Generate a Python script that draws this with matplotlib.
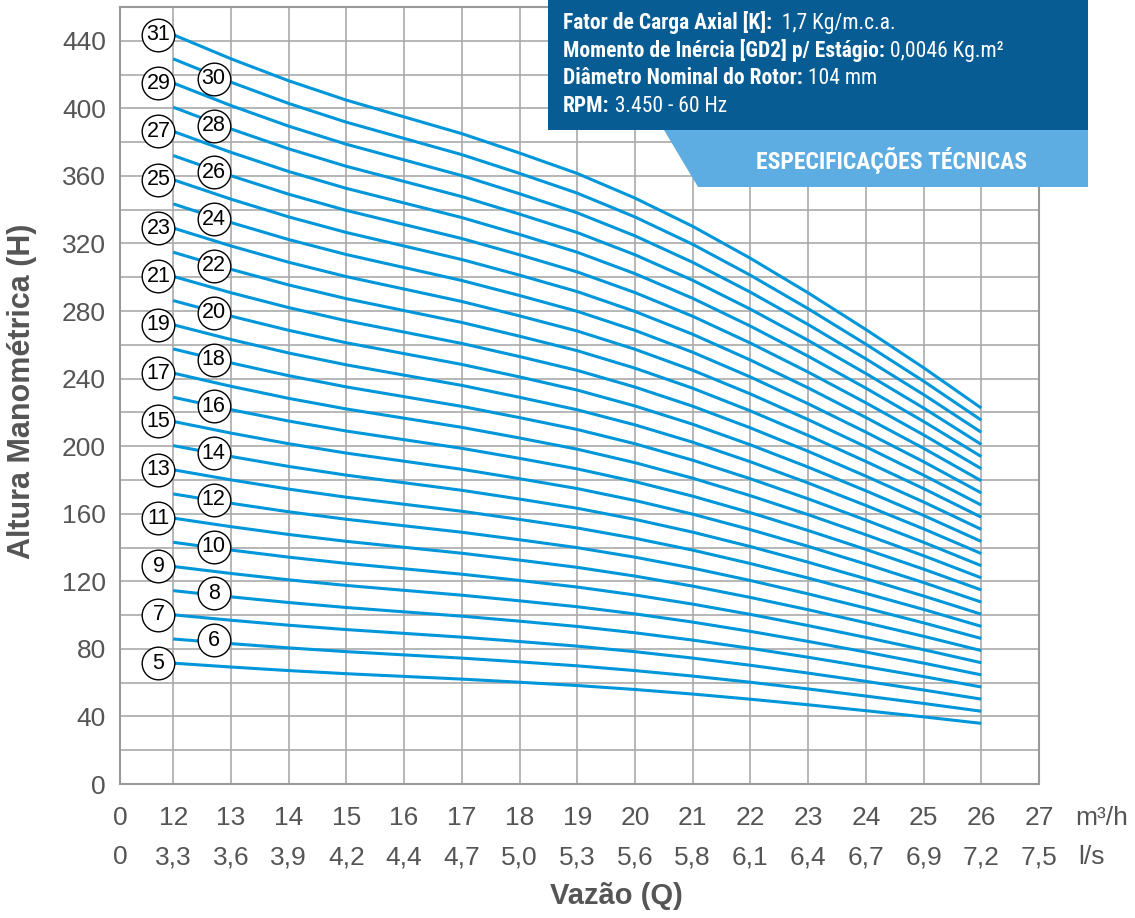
import matplotlib.pyplot as plt
from matplotlib.patches import Rectangle, Polygon

# flow points (m3/h) and head per stage
flow_m3h = [12, 13, 14, 15, 16, 17, 18, 19, 20, 21, 22, 23, 24, 25, 26]
head_per_stage = [14.31, 13.85, 13.43, 13.06, 12.74, 12.42, 12.05, 11.66,
                  11.19, 10.65, 10.04, 9.38, 8.68, 7.95, 7.18]
stages = list(range(5, 32))

x_labels_m3h = ["0", "12", "13", "14", "15", "16", "17", "18", "19", "20",
                "21", "22", "23", "24", "25", "26", "27"]
x_labels_ls = ["0", "3,3", "3,6", "3,9", "4,2", "4,4", "4,7", "5,0", "5,3",
               "5,6", "5,8", "6,1", "6,4", "6,7", "6,9", "7,2", "7,5"]
y_ticks = list(range(0, 441, 40))

spec_lines = [
    ("Fator de Carga Axial [K]:", "  1,7 Kg/m.c.a."),
    ("Momento de Inércia [GD2] p/ Estágio:", " 0,0046 Kg.m²"),
    ("Diâmetro Nominal do Rotor:", " 104 mm"),
    ("RPM:", " 3.450 - 60 Hz"),
]

plt.rcParams['font.family'] = ['Liberation Sans', 'DejaVu Sans']
gray = '#555555'
blue = '#0096da'

fig = plt.figure(figsize=(11.35, 9.18), dpi=100)
ax = fig.add_axes([120 / 1135, 1 - 784 / 918, 919 / 1135, 777 / 918])

# categorical-like x axis: 0 sits at the left edge, 12..27 are evenly spaced
x_pos = [q - 11 for q in flow_m3h]
left = 0.078
ax.set_xlim(left, 16)
ax.set_ylim(0, 460)

for n in stages:
    ax.plot(x_pos, [n * h for h in head_per_stage], color=blue, lw=2.2,
            solid_capstyle='butt', solid_joinstyle='round', zorder=3)

# stage labels in circles
for n in stages:
    if n % 2:
        lx, ly = 0.745, n * head_per_stage[0]
    else:
        lx, ly = 1.70, n * head_per_stage[1] + 2
    ax.plot(lx, ly, 'o', ms=23.5, mfc='white', mec='black', mew=1.0,
            zorder=4, clip_on=False)
    ax.text(lx, ly, str(n), ha='center', va='center', fontsize=15.5,
            color='black', zorder=5)

ax.set_yticks(y_ticks)
ax.set_yticks(range(0, 461, 20), minor=True)
ax.set_xticks(range(1, 16), minor=True)
ax.set_xticks([])
ax.tick_params(axis='y', which='both', length=0, pad=10, labelsize=19,
               labelcolor=gray)
ax.tick_params(axis='x', which='both', length=0)
ax.grid(which='both', color='#aaaaaa', lw=1.2, zorder=0)
for s in ax.spines.values():
    s.set_color('#999999')
    s.set_linewidth(1.5)

tick_x = [left] + list(range(1, 17))
tr = ax.get_xaxis_transform()
for xp, a, b in zip(tick_x, x_labels_m3h, x_labels_ls):
    ax.text(xp, -34 / 777, a, transform=tr, ha='center', va='center',
            fontsize=19, color=gray)
    ax.text(xp, -73 / 777, b, transform=tr, ha='center', va='center',
            fontsize=19, color=gray)

fig.text(1075 / 1135, 1 - 818 / 918, "m³/h", ha='left', va='center',
         fontsize=19, color=gray)
fig.text(1078 / 1135, 1 - 857 / 918, "l/s", ha='left', va='center',
         fontsize=19, color=gray)
fig.text(616 / 1135, 1 - 896 / 918, "Vazão (Q)", ha='center', va='center',
         fontsize=21, fontweight='bold', color=gray)
fig.text(22 / 1135, 1 - 391 / 918, "Altura Manométrica (H)", rotation=90,
         ha='center', va='center', fontsize=22, fontweight='bold', color=gray)

# specification box on top, in pixel coordinates
ov = fig.add_axes([0, 0, 1, 1], zorder=10)
ov.set_xlim(0, 1135)
ov.set_ylim(918, 0)
ov.axis('off')
ov.add_patch(Rectangle((548, 0), 1088 - 548, 130, color='#075c93', lw=0))
ov.add_patch(Polygon([(664, 130), (1088, 130), (1088, 187), (698, 187)],
                     closed=True, color='#5dade2', lw=0))
narrow = ['Liberation Sans Narrow', 'Roboto Condensed', 'Roboto']
for i, (bold, reg) in enumerate(spec_lines):
    y = 22 + 28 * i
    t = ov.text(563, y, bold, ha='left', va='center', fontsize=15.5,
                fontweight='bold', color='white', family=narrow)
    ov.annotate(reg, xy=(1, 0), xycoords=t, ha='left', va='bottom',
                fontsize=15.5, color='white', family=narrow)
ov.text(891, 160, "ESPECIFICAÇÕES TÉCNICAS", ha='center', va='center',
        fontsize=17, fontweight='bold', color='white', family=narrow)

fig.savefig("out.png", dpi=100)
